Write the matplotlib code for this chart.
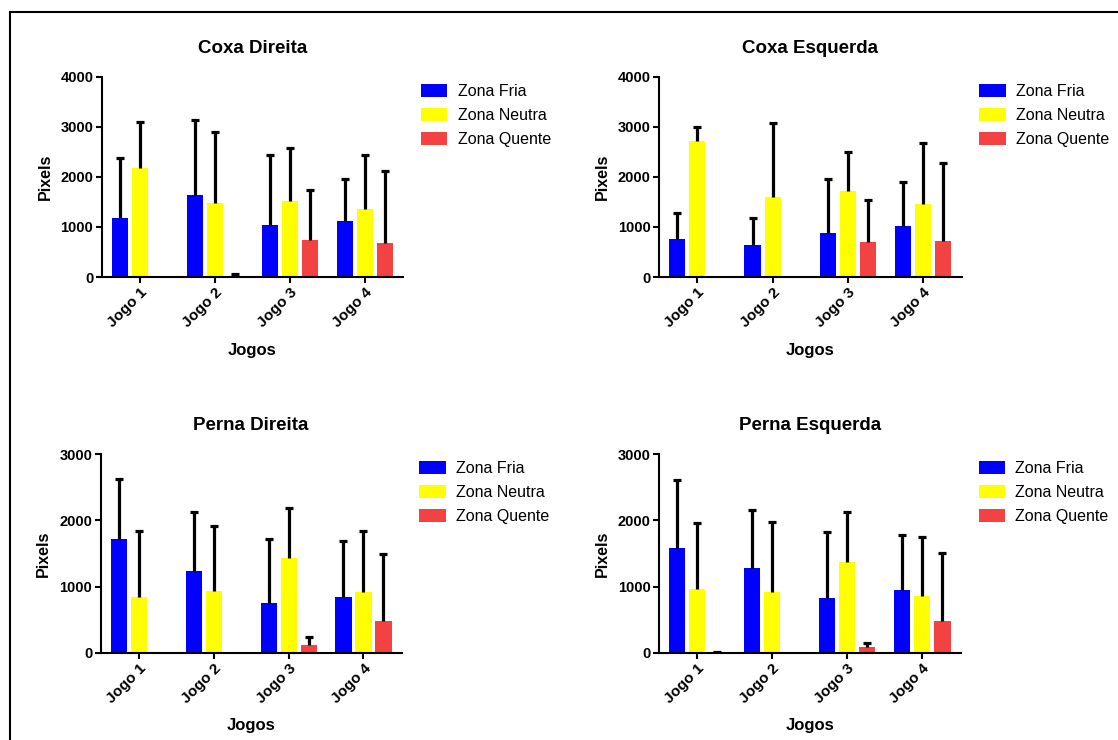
import numpy as np
import matplotlib
matplotlib.use("Agg")
import matplotlib.pyplot as plt
from matplotlib.lines import Line2D

plt.rcParams["font.family"] = ["Liberation Sans", "DejaVu Sans"]

# Data
jogos = ["Jogo 1", "Jogo 2", "Jogo 3", "Jogo 4"]
zonas = ["Zona Fria", "Zona Neutra", "Zona Quente"]
cores = ["#0000FF", "#FFFF00", "#F24242"]

titulos = ["Coxa Direita", "Coxa Esquerda", "Perna Direita", "Perna Esquerda"]
ylims = [4000, 4000, 3000, 3000]

# mean values per zone (Fria, Neutra, Quente), per jogo
coxa_dir_media = [[1190, 1647, 1047, 1113],
                  [2180, 1480, 1520, 1360],
                  [0, 30, 740, 673]]
coxa_dir_topo = [[2380, 3147, 2447, 1960],
                 [3100, 2900, 2580, 2433],
                 [0, 60, 1747, 2120]]

coxa_esq_media = [[755, 635, 890, 1030],
                  [2715, 1600, 1725, 1470],
                  [0, 0, 710, 728]]
coxa_esq_topo = [[1285, 1190, 1970, 1900],
                 [3010, 3090, 2495, 2690],
                 [0, 0, 1545, 2280]]

perna_dir_media = [[1716, 1234, 753, 848],
                   [843, 938, 1430, 923],
                   [0, 0, 115, 487]]
perna_dir_topo = [[2619, 2132, 1716, 1681],
                  [1841, 1917, 2183, 1841],
                  [0, 0, 241, 1500]]

perna_esq_media = [[1590, 1280, 828, 948],
                   [963, 913, 1370, 858],
                   [15, 0, 85, 487]]
perna_esq_topo = [[2609, 2158, 1821, 1781],
                  [1957, 1972, 2132, 1751],
                  [15, 0, 150, 1505]]

medias = [coxa_dir_media, coxa_esq_media, perna_dir_media, perna_esq_media]
topos = [coxa_dir_topo, coxa_esq_topo, perna_dir_topo, perna_esq_topo]

W, H = 1118, 740
fig = plt.figure(figsize=(W / 100, H / 100), dpi=100)

# axes boxes in pixels: left, top, right, bottom
caixas = [(101.7, 77, 403, 277),
          (659, 77, 961.5, 277),
          (100.5, 454, 401.7, 653),
          (659, 454, 960.7, 653)]

x = np.arange(len(jogos))
passo = 0.267
largura = 0.215

for i, (l, t, r, b) in enumerate(caixas):
    ax = fig.add_axes([l / W, 1 - b / H, (r - l) / W, (b - t) / H])
    for k, zona in enumerate(zonas):
        med = np.array(medias[i][k], dtype=float)
        top = np.array(topos[i][k], dtype=float)
        pos = x + (k - 1) * passo
        ax.bar(pos, med, width=largura, color=cores[k], label=zona, zorder=2)
        mask = top > 0
        eb = ax.errorbar(pos[mask], med[mask],
                         yerr=[np.zeros(mask.sum()), (top - med)[mask]],
                         fmt="none", ecolor="black", elinewidth=2.3,
                         capsize=2.8, capthick=2.3, zorder=3)
        # keep only the upper caps
        eb[1][0].set_visible(False)
    ax.set_xlim(-0.51, 3.51)
    ax.set_ylim(0, ylims[i])
    ax.set_yticks(np.arange(0, ylims[i] + 1, 1000))
    ax.set_xticks(x)
    ax.set_xticklabels(jogos, rotation=45, ha="right", rotation_mode="anchor",
                       fontsize=11, fontweight="bold")
    for lab in ax.get_yticklabels():
        lab.set_fontweight("bold")
        lab.set_fontsize(10.5)
    ax.spines[["top", "right"]].set_visible(False)
    ax.spines["left"].set_linewidth(1.5)
    ax.spines["bottom"].set_linewidth(1.5)
    ax.tick_params(axis="both", width=1.5, length=4, pad=2)
    ax.set_title(titulos[i], fontsize=13.5, fontweight="bold", pad=17)
    ax.set_ylabel("Pixels", fontsize=11.5, fontweight="bold")
    ax.yaxis.set_label_coords(-0.188, 0.5)
    ax.set_xlabel("Jogos", fontsize=12, fontweight="bold")
    ax.xaxis.set_label_coords(0.5, -0.365)
    ax.xaxis.label.set_va("center")
    ax.yaxis.label.set_va("center")
    ax.legend(loc="upper left", bbox_to_anchor=(1.059, 0.965), frameon=False,
              fontsize=11.5, borderpad=0, borderaxespad=0, handlelength=1.65,
              handleheight=0.9, handletextpad=0.65, labelspacing=0.55)

# page frame (left and top edges)
fig.add_artist(Line2D([10 / W, 10 / W], [0, 1 - 12 / H], color="black",
                      linewidth=1.5, transform=fig.transFigure))
fig.add_artist(Line2D([10 / W, 1], [1 - 12 / H, 1 - 12 / H], color="black",
                      linewidth=1.5, transform=fig.transFigure))

fig.savefig("out.png", dpi=100)
